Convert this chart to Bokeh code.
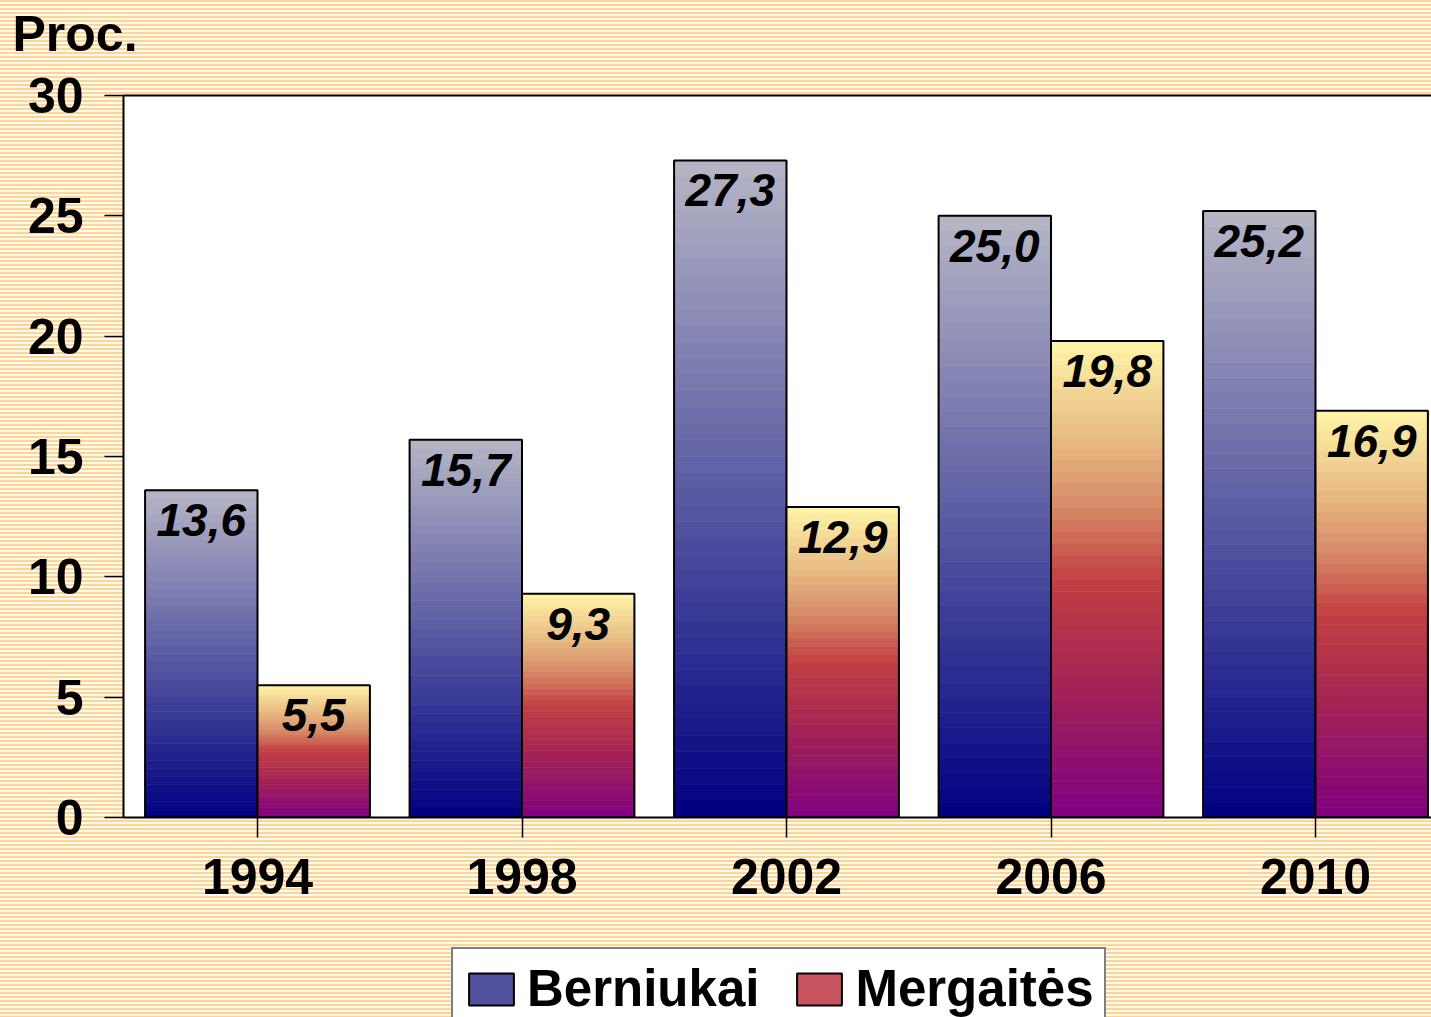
from bokeh.plotting import figure
from bokeh.layouts import column
from bokeh.models import (FixedTicker, Legend, LegendItem, ColumnDataSource,
                          InlineStyleSheet, Range1d, LinearAxis)
from bokeh.core.properties import value
from bokeh.embed import file_html
from bokeh.resources import INLINE

# ---- data ----
years = ["1994", "1998", "2002", "2006", "2010"]
boys = [13.6, 15.7, 27.3, 25.0, 25.2]
girls = [5.5, 9.3, 12.9, 19.8, 16.9]
y_ticks = [0, 5, 10, 15, 20, 25, 30]
series_names = ["Berniukai", "Mergaitės"]
y_title = "Proc."

# ---- styling ----
BAR_W = 0.425
N_BANDS = 40
BOY_STOPS = [(0.0, (182, 182, 198)), (1.0, (0, 0, 128))]
GIRL_STOPS = [(0.0, (255, 246, 168)), (0.2, (232, 188, 132)), (0.35, (214, 138, 102)),
              (0.5, (194, 64, 66)), (0.7, (166, 38, 82)), (1.0, (128, 0, 128))]
FONT = "Liberation Sans"
STRIPES = InlineStyleSheet(css=":host { background: repeating-linear-gradient(to bottom, "
                               "#fcd596 0px, #fcd596 2px, #fff9ee 2px, #fff9ee 4px); }")


def interp(stops, t):
    for (t0, c0), (t1, c1) in zip(stops[:-1], stops[1:]):
        if t <= t1:
            f = (t - t0) / (t1 - t0) if t1 > t0 else 0
            c = [round(a + (b - a) * f) for a, b in zip(c0, c1)]
            return "#%02x%02x%02x" % tuple(c)
    return "#%02x%02x%02x" % stops[-1][1]


def band_source(values, side, stops):
    d = dict(left=[], right=[], top=[], bottom=[], color=[])
    for i, v in enumerate(values):
        x0 = i - BAR_W if side < 0 else i
        x1 = i if side < 0 else i + BAR_W
        for k in range(N_BANDS):
            d["left"].append(x0)
            d["right"].append(x1)
            d["top"].append(v * (1 - k / N_BANDS))
            d["bottom"].append(v * (1 - (k + 1) / N_BANDS))
            d["color"].append(interp(stops, (k + 0.5) / N_BANDS))
    return ColumnDataSource(d)


W = 1431
H_MAIN, H_LEG = 940, 77
frame_left, frame_top, frame_bottom = 123, 95, 817
frame_w = W - frame_left
cat_px = 264.5
x_start = -134 / cat_px
x_end = x_start + frame_w / cat_px

p = figure(width=W, height=H_MAIN, output_backend="svg", toolbar_location=None,
           x_range=Range1d(x_start, x_end), y_range=Range1d(0, 30),
           min_border_left=frame_left, min_border_right=0,
           min_border_top=frame_top, min_border_bottom=H_MAIN - frame_bottom)

p.stylesheets = [STRIPES]
p.border_fill_color = None
p.background_fill_color = "white"
p.outline_line_color = None
p.xgrid.visible = False
p.ygrid.visible = False

# gradient bars
for vals, side, stops in ((boys, -1, BOY_STOPS), (girls, 1, GIRL_STOPS)):
    src = band_source(vals, side, stops)
    p.quad(left="left", right="right", top="top", bottom="bottom", source=src,
           fill_color="color", line_color="color", line_width=0.6)
    xs = [i - BAR_W / 2 if side < 0 else i + BAR_W / 2 for i in range(len(vals))]
    p.vbar(x=xs, top=vals, width=BAR_W, fill_color=None, line_color="black", line_width=2)
    p.text(x=xs, y=vals, text=[f"{v:.1f}".replace(".", ",") for v in vals],
           text_font=value(FONT), text_font_style="bold italic", text_font_size="46px",
           text_color="black", text_align="center", text_baseline="alphabetic", y_offset=30)

# axes
for ax in (p.xaxis[0], p.yaxis[0]):
    ax.axis_line_color = "black"
    ax.axis_line_width = 2
    ax.major_tick_line_color = "black"
    ax.major_tick_line_width = 1.5
    ax.major_tick_in = 0
    ax.minor_tick_line_color = None
    ax.major_label_text_font = FONT
    ax.major_label_text_font_style = "bold"
    ax.major_label_text_font_size = "50px"
    ax.major_label_text_color = "black"

p.xaxis.ticker = FixedTicker(ticks=list(range(len(years))))
p.xaxis.major_label_overrides = {i: y for i, y in enumerate(years)}
p.xaxis.major_tick_out = 20
p.xaxis.major_label_standoff = 21
p.yaxis.ticker = FixedTicker(ticks=y_ticks)
p.yaxis.major_tick_out = 19
p.yaxis.major_label_standoff = 21

# top border of the plot area (axis line only, blank label reserves space)
top_ax = LinearAxis(ticker=FixedTicker(ticks=[]), axis_line_color="black", axis_line_width=2,
                    major_tick_out=0, major_tick_in=0, major_tick_line_color=None,
                    minor_tick_line_color=None, axis_label=" ",
                    axis_label_text_font_size="20px", axis_label_standoff=6)
p.add_layout(top_ax, "above")

# title
p.title.text = y_title
p.title.text_font = FONT
p.title.text_font_style = "bold"
p.title.text_font_size = "50px"
p.title.text_color = "black"
p.title.align = "left"
p.title.offset = -111
p.title.standoff = 5

# legend in its own strip below the chart
pl = figure(width=W, height=H_LEG, output_backend="svg", toolbar_location=None,
            x_range=Range1d(0, 1), y_range=Range1d(0, 1), x_axis_type=None, y_axis_type=None,
            min_border_left=0, min_border_right=0, min_border_top=0, min_border_bottom=0)
pl.stylesheets = [STRIPES]
pl.border_fill_color = None
pl.background_fill_color = None
pl.outline_line_color = None
pl.xgrid.visible = False
pl.ygrid.visible = False

nan = float("nan")
r_b = pl.quad(left=[nan], right=[nan], top=[nan], bottom=[nan], fill_color="#50509c",
              line_color="black", line_width=2)
r_g = pl.quad(left=[nan], right=[nan], top=[nan], bottom=[nan], fill_color="#c85460",
              line_color="black", line_width=2)
legend = Legend(items=[LegendItem(label=series_names[0], renderers=[r_b]),
                       LegendItem(label=series_names[1], renderers=[r_g])],
                orientation="horizontal", location=(328, -13),
                label_text_font=FONT, label_text_font_style="bold",
                label_text_font_size="51px", label_text_color="black",
                glyph_width=56, glyph_height=40, label_standoff=8, spacing=32,
                padding=10, border_line_color="black", border_line_width=2,
                background_fill_color="white", background_fill_alpha=1)
pl.add_layout(legend, "center")

layout = column(p, pl, spacing=0)
open("out.html", "w").write(file_html(layout, INLINE))
